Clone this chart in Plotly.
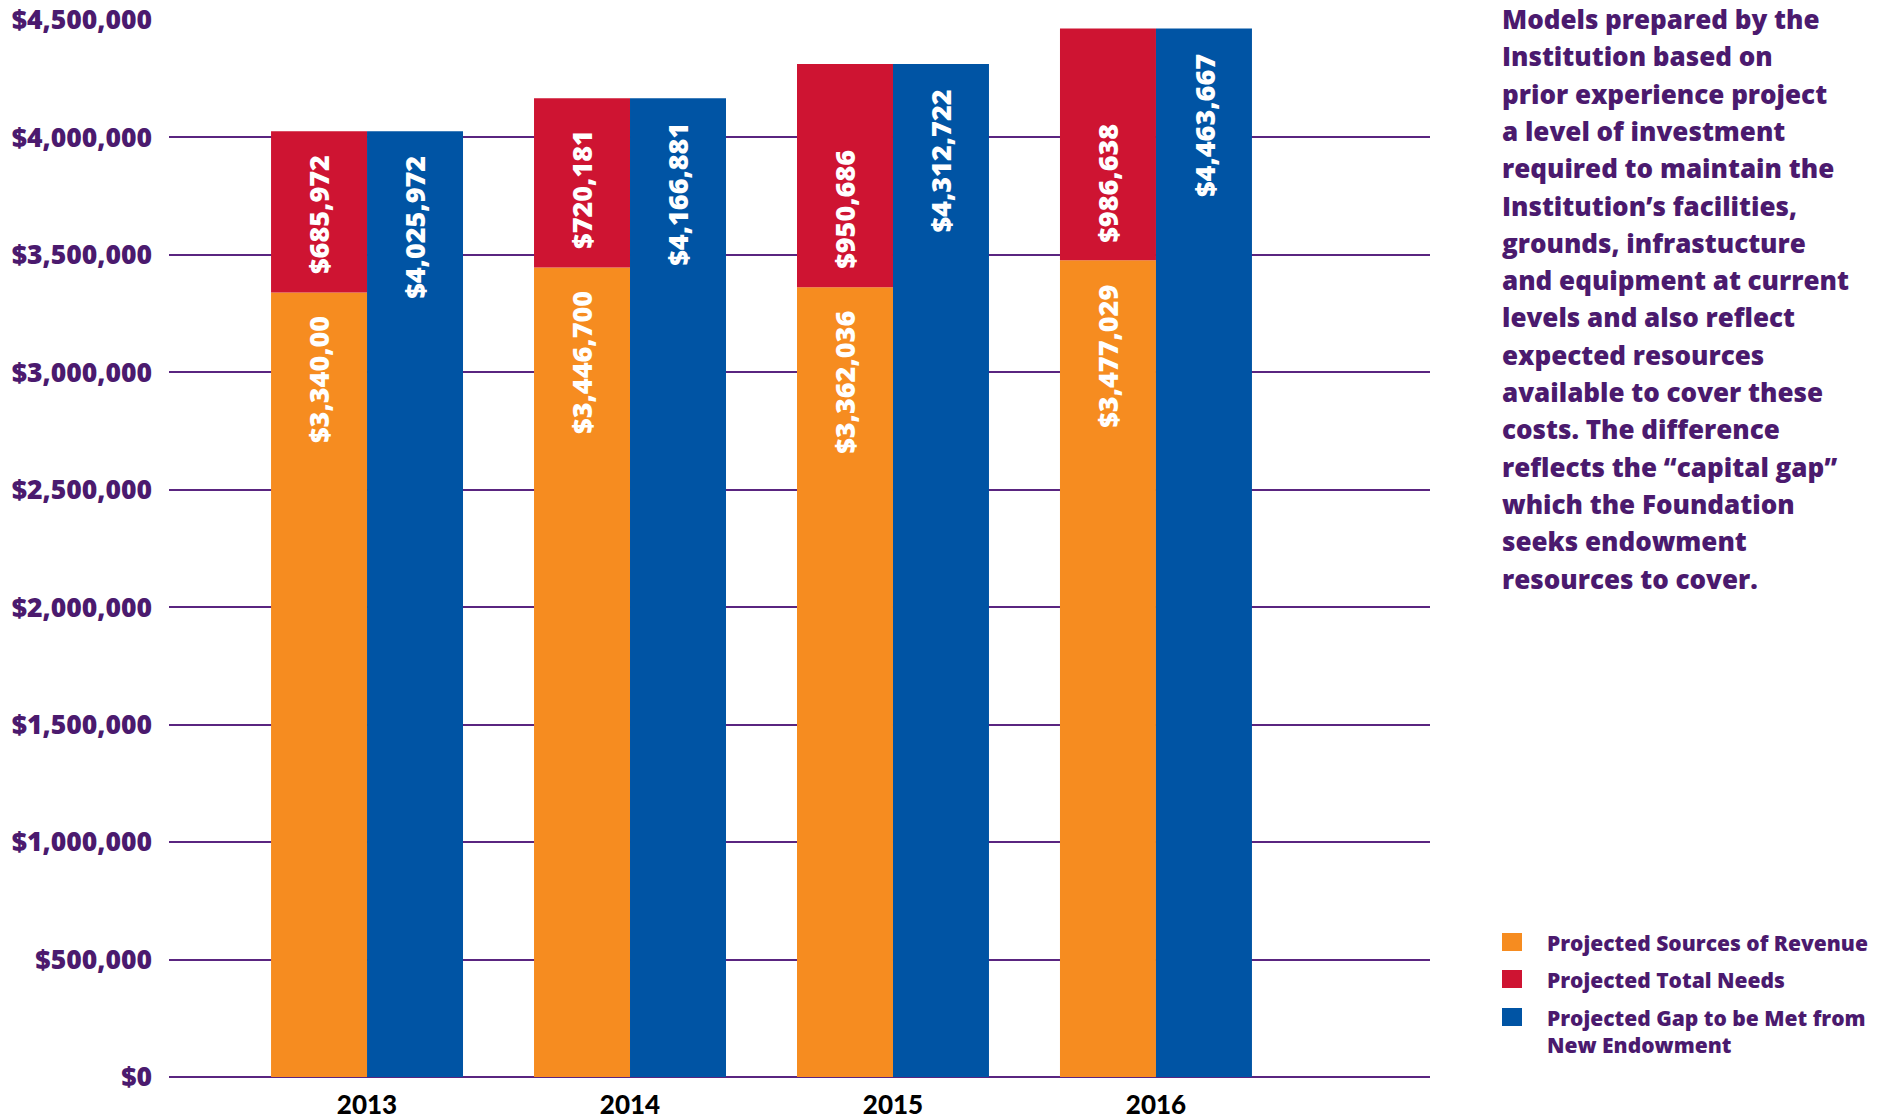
import plotly.graph_objects as go

# ---------------- data ----------------
years = ["2013", "2014", "2015", "2016"]
revenue = [3340000, 3446700, 3362036, 3477029]
needs = [685972, 720181, 950686, 986638]
gap_total = [4025972, 4166881, 4312722, 4463667]
revenue_labels = ["$3,340,00", "$3,446,700", "$3,362,036", "$3,477,029"]
needs_labels = ["$685,972", "$720,181", "$950,686", "$986,638"]
gap_labels = ["$4,025,972", "$4,166,881", "$4,312,722", "$4,463,667"]
series_names = [
    "Projected Sources of Revenue",
    "Projected Total Needs",
    "Projected Gap to be Met from<br>New Endowment",
]
y_tick_values = [0, 500000, 1000000, 1500000, 2000000, 2500000,
                 3000000, 3500000, 4000000, 4500000]
y_tick_text = ["$" + f"{v:,}" for v in y_tick_values]
side_text_lines = [
    "Models prepared by the",
    "Institution based on",
    "prior experience project",
    "a level of investment",
    "required to maintain the",
    "Institution’s facilities,",
    "grounds, infrastucture",
    "and equipment at current",
    "levels and also reflect",
    "expected resources",
    "available to cover these",
    "costs. The difference",
    "reflects the “capital gap”",
    "which the Foundation",
    "seeks endowment",
    "resources to cover.",
]

# ---------------- style ----------------
ORANGE = "#F68C20"
RED = "#CE1432"
BLUE = "#0054A4"
PURPLE = "#4B1A6E"
GRID = "#5A2580"
FONT = "Open Sans"

W, H = 1898, 1120
PL, PR, PT, PB = 169, 1430, 20, 1077  # plot area in px
BARGAP = 0.27
bar_w = (1 - BARGAP) / 2


def px_x(px):
    return (px - PL) / (PR - PL)


def px_y(py):
    return (PB - py) / (PB - PT)


xs = list(range(len(years)))

fig = go.Figure()
fig.add_trace(go.Bar(x=xs, y=revenue, offsetgroup="a", name=series_names[0],
                     marker=dict(color=ORANGE, line=dict(width=0)), showlegend=False))
fig.add_trace(go.Bar(x=xs, y=needs, base=revenue, offsetgroup="a", name=series_names[1],
                     marker=dict(color=RED, line=dict(width=0)), showlegend=False))
fig.add_trace(go.Bar(x=xs, y=gap_total, offsetgroup="b", name=series_names[2],
                     marker=dict(color=BLUE, line=dict(width=0)), showlegend=False))

annotations = []
label_font = dict(family=FONT, size=27, color="white", weight=800)
for i in xs:
    annotations.append(dict(x=i - bar_w / 2, y=revenue[i], xref="x", yref="y",
                            text=revenue_labels[i], textangle=-90, showarrow=False,
                            xanchor="center", yanchor="top", yshift=-22, font=label_font))
    annotations.append(dict(x=i - bar_w / 2, y=revenue[i], xref="x", yref="y",
                            text=needs_labels[i], textangle=-90, showarrow=False,
                            xanchor="center", yanchor="bottom", yshift=16, font=label_font))
    annotations.append(dict(x=i + bar_w / 2, y=gap_total[i], xref="x", yref="y",
                            text=gap_labels[i], textangle=-90, showarrow=False,
                            xanchor="center", yanchor="top", yshift=-23, font=label_font))

# side paragraph, one line per row
side_font = dict(family=FONT, size=26, color=PURPLE, weight=800)
for k, line in enumerate(side_text_lines):
    annotations.append(dict(x=px_x(1500), y=px_y(19 + 37.3 * k), xref="paper", yref="paper",
                            xanchor="left", yanchor="middle", align="left", showarrow=False,
                            text=line, font=side_font))

# legend (custom)
legend_colors = [ORANGE, RED, BLUE]
legend_rows = [942, 979, 1017]
shapes = []
for name, col, cy in zip(series_names, legend_colors, legend_rows):
    shapes.append(dict(type="rect", xref="paper", yref="paper",
                       x0=px_x(1502), x1=px_x(1522), y0=px_y(cy + 9), y1=px_y(cy - 9),
                       fillcolor=col, line=dict(width=0)))
    annotations.append(dict(x=px_x(1545), y=px_y(cy - 15), xref="paper", yref="paper",
                            xanchor="left", yanchor="top", align="left", showarrow=False,
                            text=name,
                            font=dict(family=FONT, size=21, color=PURPLE, weight=800)))

fig.update_layout(
    width=W, height=H,
    margin=dict(l=PL, r=W - PR, t=PT, b=H - PB, autoexpand=False),
    paper_bgcolor="white", plot_bgcolor="white",
    barmode="group", bargap=BARGAP, bargroupgap=0,
    showlegend=False,
    annotations=annotations, shapes=shapes,
    xaxis=dict(range=[-0.753, 4.042], tickvals=xs, ticktext=years,
               showgrid=False, zeroline=False, showline=False, ticks="",
               tickfont=dict(family="Lato", size=26, color="black", weight=900),
               ticklabelstandoff=10, fixedrange=True),
    yaxis=dict(range=[0, 4500000], tickvals=y_tick_values, ticktext=y_tick_text,
               showgrid=True, gridcolor=GRID, gridwidth=2,
               zeroline=True, zerolinecolor=GRID, zerolinewidth=2,
               showline=False, ticks="",
               tickfont=dict(family=FONT, size=26.5, color=PURPLE, weight=800),
               ticklabelstandoff=16, fixedrange=True),
)

fig.write_html("out.html", include_plotlyjs=True, config={"displayModeBar": False},
               post_script="document.body.style.margin='0';document.body.style.overflow='hidden';")
